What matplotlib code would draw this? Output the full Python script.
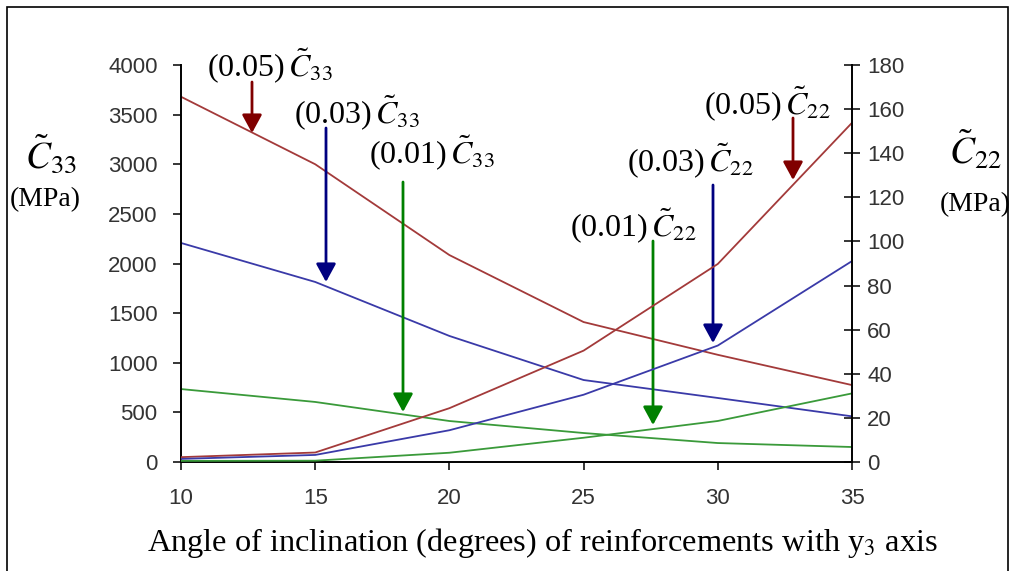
import matplotlib
matplotlib.use("Agg")
import matplotlib.pyplot as plt
from matplotlib.patches import Rectangle

plt.rcParams['mathtext.fontset'] = 'stix'

# angle of inclination (degrees)
angles = [10, 15, 20, 25, 30, 35]

# C33 (left axis, MPa) for volume fractions 0.05 / 0.03 / 0.01
c33_005 = [3680, 3000, 2085, 1410, 1080, 775]
c33_003 = [2207, 1814, 1270, 826, 645, 460]
c33_001 = [735, 605, 413, 292, 191, 151]

# C22 (right axis, MPa)
c22_005 = [2.2, 4.3, 24.4, 50.5, 89.8, 153.8]
c22_003 = [1.4, 3.2, 14.4, 30.5, 52.8, 91.1]
c22_001 = [0.5, 0.6, 4.2, 11.0, 18.6, 31.1]

left_ticks = [0, 500, 1000, 1500, 2000, 2500, 3000, 3500, 4000]
right_ticks = [0, 20, 40, 60, 80, 100, 120, 140, 160, 180]
x_ticks = [10, 15, 20, 25, 30, 35]

RED, BLUE, GREEN = '#a33a3a', '#3a3aa8', '#3a9a3a'
ARED, ABLUE, AGREEN = '#800000', '#000080', '#008000'

fig = plt.figure(figsize=(10.16, 5.71), dpi=100)
ax = fig.add_axes([181 / 1016, 1 - 462 / 571, 671 / 1016, 397 / 571])
ax2 = ax.twinx()

ax.plot(angles, c33_005, color=RED, lw=1.3)
ax.plot(angles, c33_003, color=BLUE, lw=1.3)
ax.plot(angles, c33_001, color=GREEN, lw=1.3)
ax2.plot(angles, c22_005, color=RED, lw=1.3)
ax2.plot(angles, c22_003, color=BLUE, lw=1.3)
ax2.plot(angles, c22_001, color=GREEN, lw=1.3)

ax.set_xlim(10, 35)
ax.set_ylim(0, 4000)
ax2.set_ylim(0, 180)
ax.set_xticks(x_ticks)
ax.set_yticks(left_ticks)
ax2.set_yticks(right_ticks)

for a in (ax, ax2):
    a.spines['top'].set_visible(False)
    for s in a.spines.values():
        s.set_linewidth(1.4)
ax.spines['right'].set_visible(False)
ax2.spines['left'].set_visible(False)
ax2.spines['bottom'].set_visible(False)

ax.tick_params(axis='y', direction='out', length=5.8, width=1.1, pad=11, labelsize=16, labelcolor='#333333')
ax.tick_params(axis='x', direction='out', length=5.8, width=1.1, pad=13, labelsize=16, labelcolor='#333333')
ax2.tick_params(axis='y', direction='inout', length=12, width=1.1, pad=5, labelsize=16, labelcolor='#333333')
for lab in ax.get_xticklabels() + ax.get_yticklabels() + ax2.get_yticklabels():
    lab.set_family('Liberation Sans')

ax.set_xlabel('Angle of inclination (degrees) of reinforcements with y$_3$ axis',
              family='Liberation Serif', fontsize=23.3, labelpad=12,
              x=(542 - 181) / 671)

serif = dict(family='Liberation Serif')

# axis titles
fig.text(51 / 1016, 1 - 155 / 571, r'$\tilde{C}_{33}$', fontsize=27, ha='center', va='center')
fig.text(45 / 1016, 1 - 200 / 571, '(MPa)', fontsize=20, ha='center', va='center', **serif)
fig.text(976 / 1016, 1 - 150 / 571, r'$\tilde{C}_{22}$', fontsize=27, ha='center', va='center')
fig.text(975 / 1016, 1 - 205 / 571, '(MPa)', fontsize=20, ha='center', va='center', **serif)


def px(x, y):
    # pixel position of the reference picture -> left-axis data
    return 10 + (x - 181) / 671 * 25, (462 - y) / 397 * 4000


labels = [
    ('(0.05)', '33', (270, 66), 252, 82, 133, ARED),
    ('(0.03)', '33', (357, 113), 326, 128, 282, ABLUE),
    ('(0.01)', '33', (432, 153), 403, 182, 412, AGREEN),
    ('(0.01)', '22', (633, 226), 653, 241, 425, AGREEN),
    ('(0.03)', '22', (690, 161), 713, 185, 343, ABLUE),
    ('(0.05)', '22', (767, 104), 793, 118, 180, ARED),
]
for frac, sub, (tx, ty), axp, y0, y1, col in labels:
    fig.text(tx / 1016, 1 - ty / 571, frac + r'$\,\tilde{C}_{' + sub + '}$',
             fontsize=23, ha='center', va='center', **serif)
    ax.annotate('', xy=px(axp, y1), xytext=px(axp, y0), annotation_clip=False,
                arrowprops=dict(arrowstyle='-|>,head_length=0.55,head_width=0.3',
                                mutation_scale=20, lw=2, color=col,
                                shrinkA=0, shrinkB=0))

fig.patches.append(Rectangle((7 / 1016, -0.05), 1001 / 1016, 1.05 - 7 / 571,
                             transform=fig.transFigure, fill=False,
                             edgecolor='black', lw=1.2))

fig.savefig('out.png', dpi=100)
